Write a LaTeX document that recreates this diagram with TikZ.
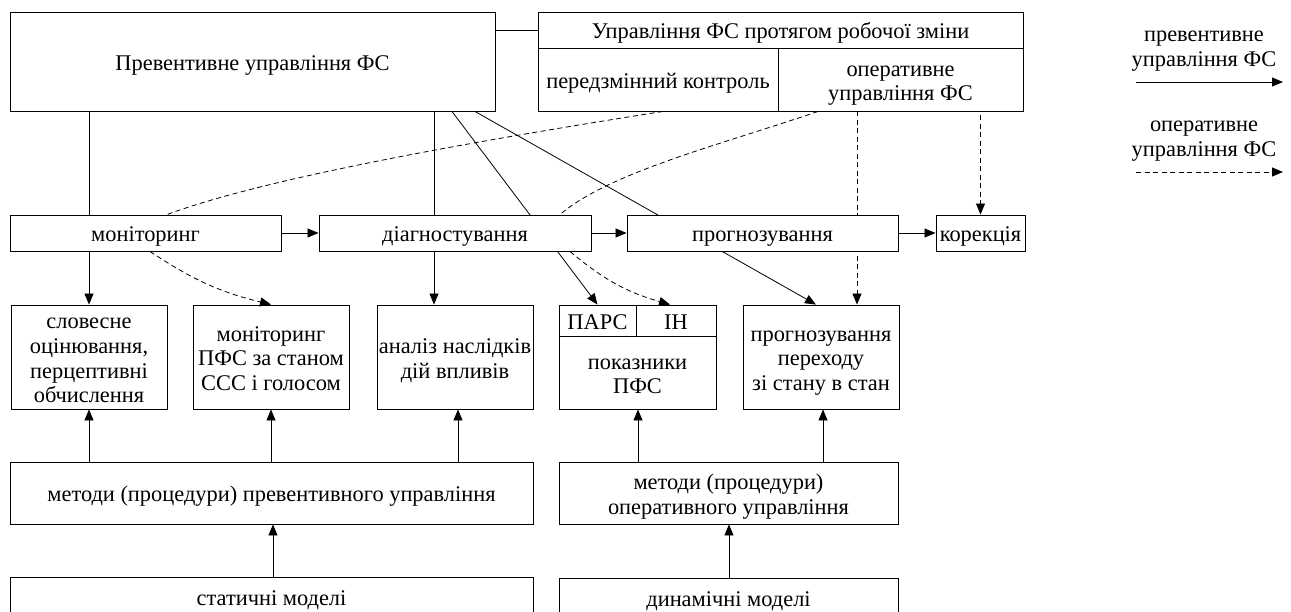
\documentclass[tikz,border=0pt]{standalone}
\usepackage{fontspec}
\setmainfont{Liberation Serif}
\usetikzlibrary{arrows.meta,calc}
\pgfdeclarelayer{bg}
\pgfsetlayers{bg,main}
% centred lines of text, set slightly below the geometric centre of their box
\newcommand\boxtext[1]{\raisebox{-4pt}[\height][\depth]{\begin{tabular}{@{}c@{}}#1\end{tabular}}}
\begin{document}
\begin{tikzpicture}[x=1pt,y=-1pt,
  txt/.style={font=\fontsize{22.4}{24.7}\selectfont,inner sep=0pt},
  box/.style={txt,draw,fill=white,line width=0.9pt},
  link/.style={line width=0.8pt},
  arr/.style={link,-{Triangle[length=11pt,width=9pt]}},
  dsh/.style={link,dash pattern=on 5pt off 3.5pt},
  darr/.style={dsh,-{Triangle[length=11pt,width=9pt]}}]
\useasboundingbox (0,0) rectangle (1291,611);

% top level
\node[box,minimum width=485pt,minimum height=99pt] (prev) at (252.5,61.5) {\boxtext{Превентивне управління ФС}};
\node[box,minimum width=485pt,minimum height=36pt] (title) at (780.5,30) {\boxtext{Управління ФС протягом робочої зміни}};
\node[box,minimum width=240pt,minimum height=63pt] (pk) at (658,79.5) {\boxtext{передзмінний контроль}};
\node[box,minimum width=245pt,minimum height=63pt] (op) at (900.5,79.5) {\boxtext{оперативне\\управління ФС}};

% stages
\node[box,minimum width=271pt,minimum height=36pt] (mon) at (145.5,233) {\boxtext{моніторинг}};
\node[box,minimum width=272pt,minimum height=36pt] (diag) at (455,233) {\boxtext{діагностування}};
\node[box,minimum width=271pt,minimum height=36pt] (prog) at (762.5,233) {\boxtext{прогнозування}};
\node[box,minimum width=89pt,minimum height=36pt] (kor) at (980.5,233) {\boxtext{корекція}};

% results
\node[box,minimum width=156pt,minimum height=104pt] (b1) at (89,357) {\boxtext{словесне\\оцінювання,\\перцептивні\\обчислення}};
\node[box,minimum width=156pt,minimum height=104pt] (b2) at (271,357) {\boxtext{моніторинг\\ПФС за станом\\ССС і голосом}};
\node[box,minimum width=156pt,minimum height=104pt] (b3) at (455,357) {\boxtext{аналіз наслідків\\дій впливів}};
\node[box,minimum width=77pt,minimum height=31pt] (parc) at (597.5,320.5) {\boxtext{ПАРС}};
\node[box,minimum width=80pt,minimum height=31pt] (in) at (676,320.5) {\boxtext{ІН}};
\node[box,minimum width=157pt,minimum height=73pt] (pfs) at (637.5,372.5) {\boxtext{показники\\ПФС}};
\node[box,minimum width=156pt,minimum height=104pt] (b5) at (821,357) {\boxtext{прогнозування\\переходу\\зі стану в стан}};

% methods and models
\node[box,minimum width=523pt,minimum height=62pt] (m1) at (271.5,493) {\boxtext{методи (процедури) превентивного управління}};
\node[box,minimum width=339pt,minimum height=62pt] (m2) at (728.5,493) {\boxtext{методи (процедури)\\оперативного управління}};
\node[box,minimum width=523pt,minimum height=40pt] (st) at (271.5,597) {\boxtext{статичні моделі}};
\node[box,minimum width=339pt,minimum height=40pt] (dy) at (728.5,598) {\boxtext{динамічні моделі}};

% legend
\node[txt] (lg1) at (1204,45) {\boxtext{превентивне\\управління ФС}};
\node[txt] (lg2) at (1204,135) {\boxtext{оперативне\\управління ФС}};
\coordinate (lg1a) at (1136,82);
\coordinate (lg1b) at (1283,82);
\coordinate (lg2a) at (1136,172);
\coordinate (lg2b) at (1283,172);
\draw[arr] (lg1a) -- (lg1b);
\draw[darr] (lg2a) -- (lg2b);

% connectors passing behind boxes
\begin{pgfonlayer}{bg}
\draw[arr] (prev.south -| 452,0) -- (parc.north);
\draw[arr] (prev.south -| 475,0) -- (b5.north -| 816,0);
\draw[darr] (op.south -| 857,0) -- (b5.north -| 857,0);
\end{pgfonlayer}

% solid connectors
\draw[link] (prev.east |- title.west) -- (title.west);
\draw[link] (prev.south -| b1.north) -- (mon.north -| b1.north);
\draw[link] (prev.south -| 434,0) -- (diag.north -| 434,0);
\draw[arr] (mon.east) -- (diag.west);
\draw[arr] (diag.east) -- (prog.west);
\draw[arr] (prog.east) -- (kor.west);
\draw[arr] (mon.south -| b1.north) -- (b1.north);
\draw[arr] (diag.south -| 434,0) -- (b3.north -| 434,0);

% dashed connectors
\draw[dsh] (pk.south -| 663,0) .. controls (450,145) and (260,180) .. (mon.north -| 167,0);
\draw[dsh] (op.south -| 818,0) .. controls (720,145) and (610,172) .. (diag.north -| 560,0);
\draw[darr] (kor.north |- 0,115) -- (kor.north);
\draw[darr] (mon.south -| 150,0) to[bend right=10] (b2.north);
\draw[darr] (diag.south -| 570,0) to[bend right=12] (in.north -| 670,0);

% methods feed results
\draw[arr] (m1.north -| b1.south) -- (b1.south);
\draw[arr] (m1.north -| b2.south) -- (b2.south);
\draw[arr] (m1.north -| 458,0) -- (b3.south -| 458,0);
\draw[arr] (m2.north -| 638,0) -- (pfs.south -| 638,0);
\draw[arr] (m2.north -| 823,0) -- (b5.south -| 823,0);
\draw[arr] (st.north -| 273,0) -- (m1.south -| 273,0);
\draw[arr] (dy.north -| 729,0) -- (m2.south -| 729,0);
\end{tikzpicture}
\end{document}
